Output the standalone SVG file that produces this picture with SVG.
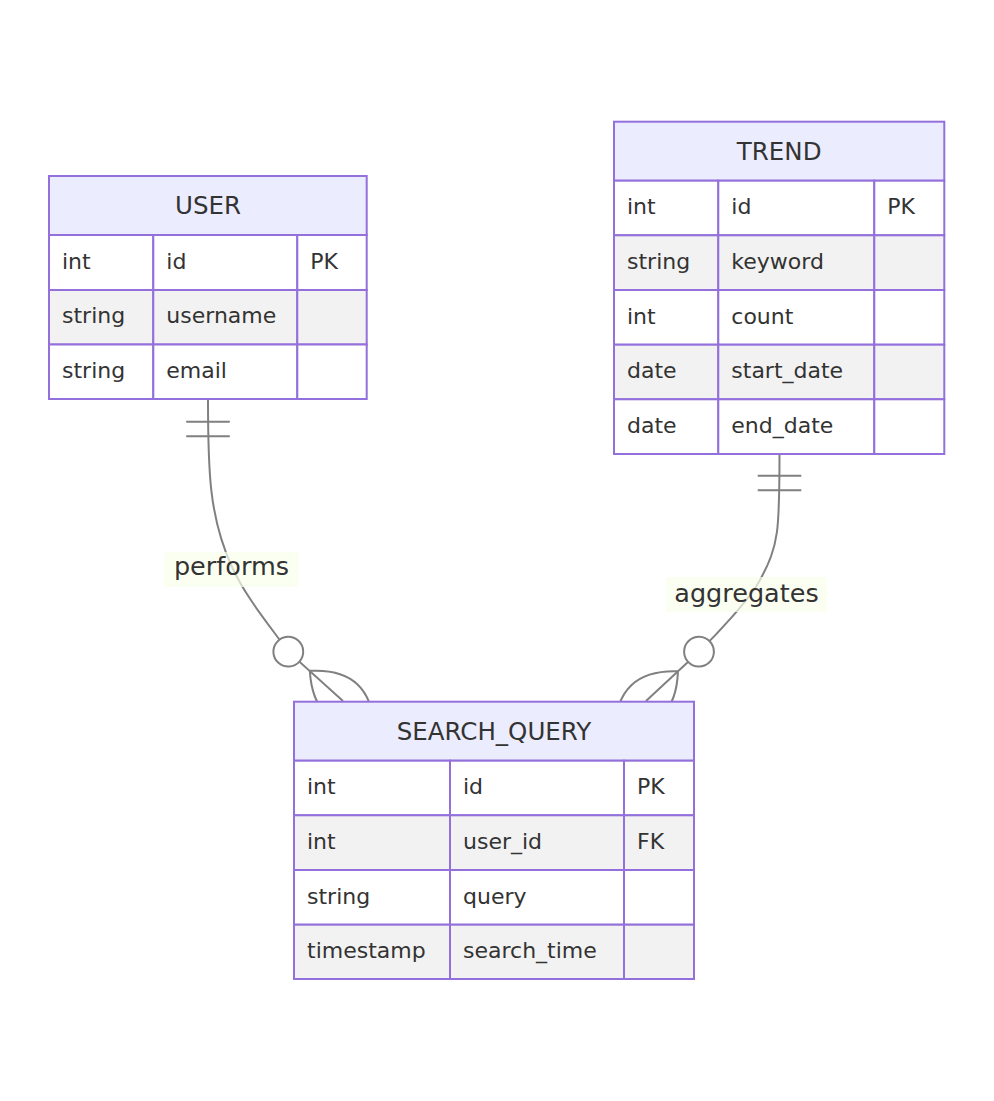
<svg xmlns="http://www.w3.org/2000/svg" xmlns:xlink="http://www.w3.org/1999/xlink" width="994" height="1101" viewBox="0 0 994 1101">
<style>
.edge{fill:none;stroke:#808080;stroke-width:2}
.mk{stroke:#808080;stroke-width:2;vector-effect:non-scaling-stroke}
.hdr{fill:#ECECFF;stroke:#9370DB;stroke-width:2}
.odd{fill:#ffffff;stroke:#9370DB;stroke-width:2}
.even{fill:#f2f2f2;stroke:#9370DB;stroke-width:2}
.ttl{font-family:"DejaVu Sans",Verdana,sans-serif;font-size:24.5px;fill:#333333;text-anchor:middle}
.cell{font-family:"DejaVu Sans",Verdana,sans-serif;font-size:22px;fill:#333333}
.lblbox{fill:rgb(249,255,236);opacity:0.7}
.lbl{font-family:"DejaVu Sans",Verdana,sans-serif;font-size:25.5px;fill:#333333;text-anchor:middle}
</style>
<defs>
<g id="zeroOrMore">
<circle class="mk" cx="0" cy="0" r="6.2" fill="#ffffff"/>
<path class="mk" fill="none" d="M12,0 Q30,-18 48,0 Q30,18 12,0"/>
</g>
</defs>
<rect x="0" y="0" width="994" height="1101" fill="#ffffff"/>
<g id="connectors">
<path class="edge" d="M208,399 C208,470 209,517 232,567 C245.8,597 267,622 288.3,651.7 L343,701"/>
<path class="edge" d="M186.2,421.8 L229.8,421.8 M186.2,436.3 L229.8,436.3"/>
<use xlink:href="#zeroOrMore" transform="translate(288.3,651.7) rotate(41.65) scale(2.4)"/>
<path class="edge" d="M779.5,454 C779.5,530 779,545 760,580 C749.2,600 716,635 699,651.7 L646,701"/>
<path class="edge" d="M757.7,475.8 L801.3,475.8 M757.7,490.3 L801.3,490.3"/>
<use xlink:href="#zeroOrMore" transform="translate(699,651.7) rotate(137) scale(2.4)"/>
<rect class="lblbox" x="164" y="552" width="135" height="35"/>
<text class="lbl" x="231.5" y="575">performs</text>
<rect class="lblbox" x="666" y="577" width="161" height="35"/>
<text class="lbl" x="746.5" y="602">aggregates</text>
</g>
<g id="node-USER">
<rect class="hdr" x="49" y="176" width="317.7" height="59"/>
<rect class="odd" x="49" y="235" width="104.3" height="55"/>
<rect class="odd" x="153.3" y="235" width="144" height="55"/>
<rect class="odd" x="297.3" y="235" width="69.4" height="55"/>
<rect class="even" x="49" y="290" width="104.3" height="54.5"/>
<rect class="even" x="153.3" y="290" width="144" height="54.5"/>
<rect class="even" x="297.3" y="290" width="69.4" height="54.5"/>
<rect class="odd" x="49" y="344.5" width="104.3" height="54.5"/>
<rect class="odd" x="153.3" y="344.5" width="144" height="54.5"/>
<rect class="odd" x="297.3" y="344.5" width="69.4" height="54.5"/>
<text class="ttl" x="208" y="214.3">USER</text>
<text class="cell" x="62" y="268.7">int</text>
<text class="cell" x="166.3" y="268.7">id</text>
<text class="cell" x="310.3" y="268.7">PK</text>
<text class="cell" x="62" y="323.4">string</text>
<text class="cell" x="166.3" y="323.4">username</text>
<text class="cell" x="62" y="377.9">string</text>
<text class="cell" x="166.3" y="377.9">email</text>
</g>
<g id="node-TREND">
<rect class="hdr" x="614" y="121.7" width="330.3" height="59"/>
<rect class="odd" x="614" y="180.7" width="104.3" height="54.6"/>
<rect class="odd" x="718.3" y="180.7" width="156" height="54.6"/>
<rect class="odd" x="874.3" y="180.7" width="70" height="54.6"/>
<rect class="even" x="614" y="235.3" width="104.3" height="54.7"/>
<rect class="even" x="718.3" y="235.3" width="156" height="54.7"/>
<rect class="even" x="874.3" y="235.3" width="70" height="54.7"/>
<rect class="odd" x="614" y="290" width="104.3" height="54.7"/>
<rect class="odd" x="718.3" y="290" width="156" height="54.7"/>
<rect class="odd" x="874.3" y="290" width="70" height="54.7"/>
<rect class="even" x="614" y="344.7" width="104.3" height="54.6"/>
<rect class="even" x="718.3" y="344.7" width="156" height="54.6"/>
<rect class="even" x="874.3" y="344.7" width="70" height="54.6"/>
<rect class="odd" x="614" y="399.3" width="104.3" height="54.7"/>
<rect class="odd" x="718.3" y="399.3" width="156" height="54.7"/>
<rect class="odd" x="874.3" y="399.3" width="70" height="54.7"/>
<text class="ttl" x="779.2" y="159.5">TREND</text>
<text class="cell" x="627" y="214.2">int</text>
<text class="cell" x="731.3" y="214.2">id</text>
<text class="cell" x="887.3" y="214.2">PK</text>
<text class="cell" x="627" y="268.9">string</text>
<text class="cell" x="731.3" y="268.9">keyword</text>
<text class="cell" x="627" y="323.6">int</text>
<text class="cell" x="731.3" y="323.6">count</text>
<text class="cell" x="627" y="378.2">date</text>
<text class="cell" x="731.3" y="378.2">start_date</text>
<text class="cell" x="627" y="432.9">date</text>
<text class="cell" x="731.3" y="432.9">end_date</text>
</g>
<g id="node-SEARCH_QUERY">
<rect class="hdr" x="294" y="701.7" width="400" height="59"/>
<rect class="odd" x="294" y="760.7" width="156" height="54.6"/>
<rect class="odd" x="450" y="760.7" width="174" height="54.6"/>
<rect class="odd" x="624" y="760.7" width="70" height="54.6"/>
<rect class="even" x="294" y="815.3" width="156" height="54.7"/>
<rect class="even" x="450" y="815.3" width="174" height="54.7"/>
<rect class="even" x="624" y="815.3" width="70" height="54.7"/>
<rect class="odd" x="294" y="870" width="156" height="54.7"/>
<rect class="odd" x="450" y="870" width="174" height="54.7"/>
<rect class="odd" x="624" y="870" width="70" height="54.7"/>
<rect class="even" x="294" y="924.7" width="156" height="54.3"/>
<rect class="even" x="450" y="924.7" width="174" height="54.3"/>
<rect class="even" x="624" y="924.7" width="70" height="54.3"/>
<text class="ttl" x="494" y="739.8">SEARCH_QUERY</text>
<text class="cell" x="307" y="794.2">int</text>
<text class="cell" x="463" y="794.2">id</text>
<text class="cell" x="637" y="794.2">PK</text>
<text class="cell" x="307" y="848.9">int</text>
<text class="cell" x="463" y="848.9">user_id</text>
<text class="cell" x="637" y="848.9">FK</text>
<text class="cell" x="307" y="903.6">string</text>
<text class="cell" x="463" y="903.6">query</text>
<text class="cell" x="307" y="958">timestamp</text>
<text class="cell" x="463" y="958">search_time</text>
</g>
</svg>
